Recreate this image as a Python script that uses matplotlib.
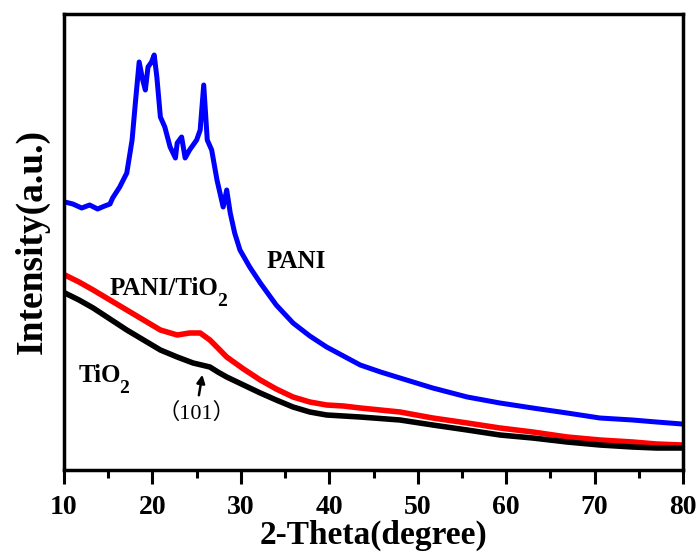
import matplotlib
matplotlib.use("Agg")
import matplotlib.pyplot as plt
from matplotlib.ticker import MultipleLocator, NullLocator

# --- data (2-theta in degrees, intensity in a.u.) ---
pani_x = [10.1, 11.0, 12.0, 12.9, 13.8, 14.6, 15.2, 15.5, 16.3, 17.1, 17.7, 18.1,
          18.5, 18.9, 19.2, 19.5, 19.9, 20.2, 20.5, 20.9, 21.4, 22.0, 22.6, 22.8,
          23.3, 23.7, 24.2, 25.0, 25.4, 25.8, 26.2, 26.7, 27.3, 28.0, 28.4, 28.8,
          29.3, 29.9, 31.0, 32.2, 34.0, 35.9, 37.8, 39.7, 41.6, 43.5, 45.8, 48.0,
          51.7, 55.6, 59.3, 63.0, 66.9, 70.6, 74.3, 77.0, 79.9]
pani_y = [268, 266, 262, 265, 261, 264, 266, 272, 283, 297, 330, 370,
          408, 390, 380, 403, 408, 415, 393, 353, 343, 323, 312, 327,
          333, 312, 320, 330, 340, 385, 330, 320, 290, 263, 280, 257,
          237, 220, 203, 187, 165, 147, 134, 123, 114, 105, 98, 92,
          82, 73, 67, 62, 57, 52, 50, 48, 46]

comp_x = [10.1, 11.7, 13.3, 15.2, 17.1, 19.0, 20.9, 22.8, 24.2, 25.4, 26.5, 27.4,
          28.4, 30.3, 32.2, 34.0, 35.9, 37.8, 39.7, 41.6, 43.5, 48.0, 51.7, 55.6,
          59.3, 63.0, 66.9, 70.6, 74.3, 77.0, 79.9]
comp_y = [195, 188, 180, 170, 160, 150, 140, 135, 137, 137, 130, 122,
          113, 101, 90, 81, 73, 68, 65, 64, 62, 58, 52, 47,
          42, 38, 33, 30, 28, 26, 25]

tio2_x = [10.1, 11.7, 13.3, 15.2, 17.1, 19.0, 20.9, 22.8, 24.6, 26.5, 27.4, 28.4,
          30.3, 32.2, 34.0, 35.9, 37.8, 39.7, 41.6, 43.5, 48.0, 51.7, 55.6, 59.3,
          63.0, 66.9, 70.6, 74.3, 77.0, 79.9]
tio2_y = [177, 170, 162, 151, 140, 130, 120, 113, 107, 103, 98, 93,
          85, 77, 70, 63, 58, 55, 54, 53, 50, 45, 40, 35,
          32, 28, 25, 23, 22, 22]

x_ticks = [10, 20, 30, 40, 50, 60, 70, 80]

serif = "Liberation Serif"
plt.rcParams["font.family"] = serif

fig = plt.figure(figsize=(6.99, 5.52), dpi=100)
ax = fig.add_axes([64 / 699, 1 - 470 / 552, (683 - 64) / 699, (470 - 14) / 552])

ax.plot(pani_x, pani_y, color="#0000ff", lw=3.6, solid_joinstyle="round")
ax.plot(comp_x, comp_y, color="#ff0000", lw=4.0, solid_joinstyle="round")
ax.plot(tio2_x, tio2_y, color="#000000", lw=4.0, solid_joinstyle="round")

ax.set_xlim(10, 80)
ax.set_ylim(0, 456)
ax.set_xticks(x_ticks)
ax.xaxis.set_minor_locator(MultipleLocator(5))
ax.yaxis.set_major_locator(NullLocator())
ax.tick_params(axis="x", which="major", direction="out", length=10, width=2.2,
               labelsize=20, pad=8)
ax.tick_params(axis="x", which="minor", direction="out", length=6, width=2.2)
ax.tick_params(top=False, right=False, left=False)
for lab in ax.get_xticklabels():
    lab.set_fontweight("bold")
for s in ax.spines.values():
    s.set_linewidth(2.5)

ax.set_xlabel("2-Theta(degree)", fontsize=24, fontweight="bold", labelpad=0)
ax.set_ylabel("Intensity(a.u.)", fontsize=27, fontweight="bold", labelpad=10)

ax.text(36.3, 208, "PANI", fontsize=18, fontweight="bold", ha="center", va="center")
t1 = ax.text(15.2, 175, "PANI/TiO", fontsize=18, fontweight="bold",
             ha="left", va="baseline")
ax.annotate("2", xy=(1, 0), xycoords=t1, xytext=(-1, -7),
            textcoords="offset points", fontsize=14, fontweight="bold",
            ha="left", va="bottom")
t2 = ax.text(11.6, 88, "TiO", fontsize=18, fontweight="bold",
             ha="left", va="baseline")
ax.annotate("2", xy=(1, 0), xycoords=t2, xytext=(-1, -7),
            textcoords="offset points", fontsize=14, fontweight="bold",
            ha="left", va="bottom")
ax.text(25.0, 57, "（101）", fontsize=16, ha="center", va="center",
        family=[serif, "Noto Sans CJK SC"])
ax.annotate("", xy=(25.7, 98), xytext=(25.2, 72),
            arrowprops=dict(arrowstyle="-|>", color="black", lw=1.8,
                            mutation_scale=12))

fig.savefig("out.png", dpi=100)
